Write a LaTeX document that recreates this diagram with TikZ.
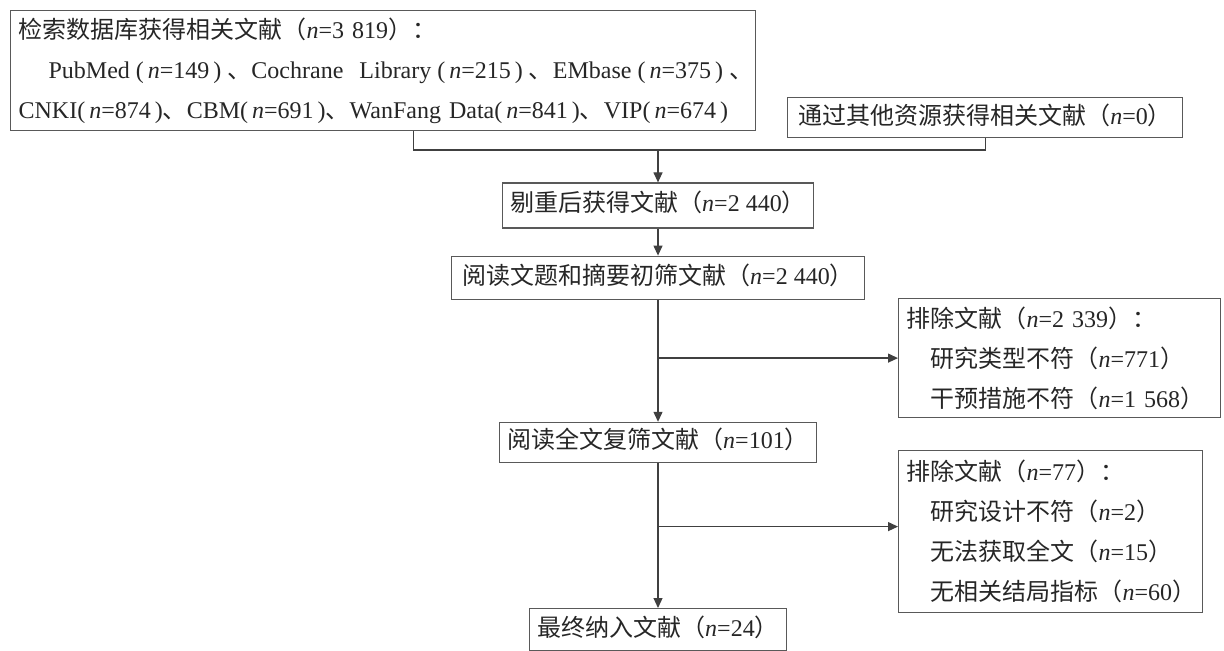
\documentclass[tikz,border=0pt]{standalone}
\usepackage{fontspec}
\setmainfont{Liberation Serif}
\newfontfamily\cjk{Noto Sans CJK SC}
\newfontfamily\en{Liberation Serif}
\usetikzlibrary{arrows.meta,positioning}
\newcommand\cnt[1]{（{\en\textit{n}=#1}）}
\newcommand\cnth[1]{{\en(\,\textit{n}=#1\,)}}
\newcommand\cnts[1]{{\en\hspace{0.25em}(\,\textit{n}=#1\,)\hspace{0.25em}}}

\begin{document}
\begin{tikzpicture}[x=0.5pt,y=-0.5pt,font=\cjk\fontsize{12}{20}\selectfont,text=black!85,
box/.style={draw=black!65,line width=0.6pt,inner xsep=4pt,inner ysep=2pt},
single/.style={box,text height=9pt,text depth=2.5pt},
multi/.style={box,align=left,anchor=north west},
line/.style={line width=0.6pt,draw=black!75},
arrow/.style={line,-{Triangle[length=5pt,width=4.5pt]}}]
\useasboundingbox (0,0) rectangle (1224,651);
\node[multi,minimum width=372.5pt,minimum height=60pt,text width=364.5pt] (db) at (10,10) {检索数据库获得相关文献\cnt{3~819}：\\
\mbox{\hspace*{1.25em}{\en PubMed}\cnts{149}、{\en Cochrane\ \ Library}\cnts{215}、{\en EMbase}\cnts{375}、}\\
\mbox{{\en CNKI}\cnth{874}、{\en CBM}\cnth{691}、{\en WanFang Data}\cnth{841}、{\en VIP}\cnth{674}}};
\node[single,anchor=north west,minimum width=197.5pt,minimum height=20pt] (other) at (787,97) {通过其他资源获得相关文献\cnt{0}};
\node[single,minimum width=155pt,minimum height=22.5pt] (dedup) at (658,205.5) {剔重后获得文献\cnt{2~440}};
\node[single,below=13.5pt of dedup,minimum width=206.5pt,minimum height=21.5pt] (screen) {阅读文题和摘要初筛文献\cnt{2~440}};
\node[single,below=61pt of screen,minimum width=157pt,minimum height=20pt] (full) {阅读全文复筛文献\cnt{101}};
\node[single,below=72.5pt of full,minimum width=125.5pt,minimum height=21pt] (final) {最终纳入文献\cnt{24}};
\node[multi,minimum width=161pt,minimum height=59.5pt,text width=153pt] (ex1) at (898,298) {排除文献\cnt{2~339}：\\
\hspace*{1em}研究类型不符\cnt{771}\\
\hspace*{1em}干预措施不符\cnt{1~568}};
\node[multi,minimum width=152pt,minimum height=81pt,text width=144pt] (ex2) at (898,450) {排除文献\cnt{77}：\\
\hspace*{1em}研究设计不符\cnt{2}\\
\hspace*{1em}无法获取全文\cnt{15}\\
\hspace*{1em}无相关结局指标\cnt{60}};
% merge of the two sources
\coordinate (join) at (658,150);
\coordinate (ex2in) at ([yshift=2.5pt]ex2.west);
\draw[line] ([xshift=15.25pt]db.south) |- (join);
\draw[line] (other.south) |- (join);
\draw[arrow] (join) -- (dedup);
\draw[arrow] (dedup) -- (screen);
\draw[arrow] (screen) -- (full);
\draw[arrow] (full) -- (final);
\draw[arrow] (screen.south |- ex1.west) -- (ex1);
\draw[arrow] (full.south |- ex2in) -- (ex2in);
\end{tikzpicture}
\end{document}
